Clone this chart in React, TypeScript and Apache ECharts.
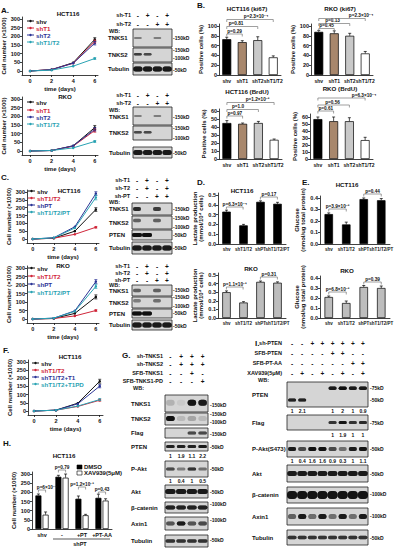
import React, { useEffect, useRef } from "react";
import * as echarts from "echarts";

const FONT = '"Liberation Sans", Arial, Helvetica, sans-serif';

// ---------------- growth curves (cell number x1000) ----------------
const days = [0, 2, 4, 6];
const cellTicks = [0, 50, 100, 150, 200, 250, 300];

const aHctShv = [0, 8, 48, 182];
const aHctShT1 = [0, 8, 45, 170];
const aHctShT2 = [0, 8, 45, 160];
const aHctShT1T2 = [0, 5, 28, 72];
const aHctErr6 = [10, 8, 10, 5];

const aRkoShv = [0, 3, 30, 135];
const aRkoShT1 = [0, 3, 28, 118];
const aRkoShT2 = [0, 3, 30, 125];
const aRkoShT1T2 = [0, 3, 18, 55];
const aRkoErr6 = [12, 10, 10, 5];

const cHctShv = [0, 5, 50, 188];
const cHctShT1T2 = [0, 5, 30, 75];
const cHctShPT = [0, 8, 78, 290];
const cHctShT1T2PT = [0, 8, 70, 265];
const cHctErr6 = [12, 5, 12, 15];

const cRkoShv = [0, 3, 33, 130];
const cRkoShT1T2 = [0, 3, 18, 50];
const cRkoShPT = [0, 5, 48, 220];
const cRkoShT1T2PT = [0, 5, 45, 192];
const cRkoErr6 = [12, 5, 12, 12];

const fHctShv = [0, 5, 48, 182];
const fHctShT1T2 = [0, 5, 28, 66];
const fHctShT1T2T1 = [0, 5, 44, 152];
const fHctShT1T2T1PD = [0, 5, 30, 70];
const fHctErr6 = [12, 6, 10, 6];

// ---------------- B: positive cells (%) ----------------
const bCats = ["shv", "shT1", "shT2", "shT1/T2"];
const bHctKi67 = [73, 67, 71, 36];
const bHctKi67Err = [4, 3, 7, 3];
const bRkoKi67 = [88, 85, 80, 44];
const bRkoKi67Err = [3, 5, 5, 4];
const bHctBrdu = [45, 44, 45, 24];
const bHctBrduErr = [3, 1, 2, 1];
const bRkoBrdu = [57, 54, 54, 27];
const bRkoBrduErr = [3, 6, 5, 4];
const kiTicks = [0, 20, 40, 60, 80, 100];
const brduTicks = [0, 10, 20, 30, 40, 50, 60];

// ---------------- D / E ----------------
const deCats = ["shv", "shT1/T2", "shPT", "shT1/T2/PT"];
const dHct = [0.33, 0.19, 0.43, 0.41];
const dHctErr = [0.015, 0.01, 0.01, 0.015];
const eHct = [0.26, 0.17, 0.39, 0.38];
const eHctErr = [0.01, 0.02, 0.01, 0.015];
const dRko = [0.3, 0.18, 0.42, 0.41];
const dRkoErr = [0.015, 0.01, 0.01, 0.01];
const eRko = [0.21, 0.15, 0.31, 0.3];
const eRkoErr = [0.01, 0.02, 0.015, 0.02];
const dTicks = [0, 0.1, 0.2, 0.3, 0.4, 0.5];
const eTicks = [0, 0.1, 0.2, 0.3, 0.4];

// ---------------- H ----------------
const hCats = ["shv", "-", "+PT", "+PT-AA"];
const hDmso = [183, 285, 165, 170];
const hDmsoErr = [8, 8, 15, 20];
const hXav = [78, 280, 75, 155];
const hXavErr = [15, 20, 5, 10];

// ---------------- blots (band intensities per lane) ----------------
const aHctTnks1 = [0.35, 0, 0.35, 0];
const aHctTnks2 = [0.65, 0.6, 0, 0];
const aHctTub = [0.85, 0.85, 0.85, 0.85];
const aRkoTnks1 = [0.35, 0, 0.35, 0];
const aRkoTnks2 = [0.6, 0.6, 0, 0];
const aRkoTub = [0.85, 0.85, 0.85, 0.85];
const cHctTnks1 = [0.75, 0, 0.65, 0];
const cHctTnks2 = [0.5, 0, 0.5, 0];
const cHctPten = [0.95, 0.95, 0, 0];
const cHctTub = [0.85, 0.85, 0.85, 0.85];
const cRkoTnks1 = [0.5, 0, 0.5, 0];
const cRkoTnks2 = [0.35, 0, 0.4, 0];
const cRkoPten = [0.95, 0.95, 0, 0];
const cRkoTub = [0.85, 0.85, 0.85, 0.85];
const gTnks1 = [0.15, 0.05, 0.9, 0.85];
const gTnks2 = [0.95, 0.12, 0.2, 0.12];
const gFlag = [0, 0, 0.6, 0.6];
const gPten = [0.8, 0.8, 0.8, 0.85];
const gPakt = [0.6, 0.35, 0.7, 0.4];
const gAkt = [0.85, 0.85, 0.85, 0.85];
const gBcat = [0.8, 0.8, 0.8, 0.8];
const gAxin = [0.55, 0.85, 0.55, 0.6];
const gTub = [0.7, 0.7, 0.7, 0.7];
const gPtenNums = ["1", "1.9", "1.1", "2.2"];
const gPaktNums = ["1", "0.4", "1", "0.5"];
const iPten50 = [0.8, 0.8, 0, 0, 0, 0, 0, 0];
const iPten75 = [0, 0, 0, 0, 0.85, 0.95, 0.85, 0.85];
const iFlag = [0, 0, 0, 0, 0.7, 0.9, 0.7, 0.75];
const iPakt = [0.85, 0.6, 0.95, 0.95, 0.6, 0.4, 0.85, 0.9];
const iAkt = [0.85, 0.85, 0.85, 0.85, 0.85, 0.85, 0.85, 0.85];
const iBcat = [0.9, 0.9, 0.9, 0.9, 0.9, 0.9, 0.9, 0.9];
const iAxin = [0.5, 0.85, 0.45, 0.85, 0.4, 0.85, 0.4, 0.85];
const iTub = [0.7, 0.7, 0.7, 0.7, 0.7, 0.7, 0.7, 0.7];
const iPtenNums = ["1", "2.1", "", "", "1", "2", "1", "0.9"];
const iFlagNums = ["", "", "", "", "1", "1.9", "1", "1"];
const iPaktNums = ["1", "0.4", "1.6", "1.6", "0.9", "0.3", "1", "1.1"];

const BLACK = "#111111";
const RED = "#d0263a";
const BLUE = "#2c3596";
const TEAL = "#2aa3b3";
const bColors = ["#000000", "#a8876c", "#c9c9c9", "#ffffff"];

function txt(x: number, y: number, text: string, o: any = {}) {
  return {
    type: "text",
    x,
    y,
    silent: true,
    z: 20,
    style: {
      text,
      fontFamily: FONT,
      fontSize: o.fs ?? 6,
      fontWeight: o.fw ?? "bold",
      fill: o.c ?? "#111",
      align: o.a ?? "left",
      verticalAlign: "middle",
    },
  };
}
function ln(x1: number, y1: number, x2: number, y2: number, c = "#111", w = 0.7) {
  return { type: "line", silent: true, z: 20, shape: { x1, y1, x2, y2 }, style: { stroke: c, lineWidth: w } };
}
function bracket(x1: number, x2: number, y: number, label: string, lx?: number) {
  const c = "#777";
  return [
    ln(x1, y, x2, y, c, 0.7),
    ln(x1, y, x1, y + 2.5, c, 0.7),
    ln(x2, y, x2, y + 2.5, c, 0.7),
    txt(lx ?? (x1 + x2) / 2, y - 2.9, label, { fs: 4.7, a: "center" }),
  ];
}
function blotBox(x: number, y: number, w: number, h: number) {
  return { type: "rect", silent: true, z: 15, shape: { x, y, width: w, height: h }, style: { fill: "#d5d5d5", stroke: "#222", lineWidth: 0.8 } };
}
function bands(x: number, y: number, w: number, h: number, intens: number[], yFrac = 0.5, bh = 3, wf = 0.8) {
  const n = intens.length;
  const lw = w / n;
  const out: any[] = [];
  intens.forEach((v, i) => {
    if (v <= 0) return;
    const bw = lw * wf;
    out.push({
      type: "rect",
      silent: true,
      z: 16,
      shape: { x: x + lw * i + (lw - bw) / 2, y: y + h * yFrac - bh / 2, width: bw, height: bh, r: bh / 2 },
      style: { fill: `rgba(15,15,15,${v})`, shadowBlur: 1.5, shadowColor: `rgba(15,15,15,${v * 0.8})` },
    });
  });
  return out;
}
function laneX(x: number, w: number, n: number, i: number) {
  return x + (w / n) * (i + 0.5);
}
function signRow(x: number, w: number, y: number, signs: string[], label: string, labelX: number) {
  const out: any[] = [txt(labelX, y, label, { a: "right", fs: 5.5 })];
  signs.forEach((s, i) => out.push(txt(laneX(x, w, signs.length, i), y, s, { a: "center", fs: 6.5 })));
  return out;
}
function numRow(x: number, w: number, y: number, nums: string[]) {
  return nums.map((s, i) => txt(laneX(x, w, nums.length, i), y, s, { a: "center", fs: 5 }));
}
function legendItem(x: number, y: number, color: string, label: string) {
  return [
    ln(x, y, x + 7, y, color, 1),
    { type: "circle", silent: true, z: 20, shape: { cx: x + 3.5, cy: y, r: 1.2 }, style: { fill: color } },
    txt(x + 9, y, label, { c: color, fs: 6.2 }),
  ];
}

const lineErr = (color: string) => (params: any, api: any) => {
  const x = api.value(0), y = api.value(1), e = api.value(2);
  const a = api.coord([x, y - e]);
  const b = api.coord([x, y + e]);
  const st = { stroke: color, lineWidth: 0.7 };
  return {
    type: "group",
    children: [
      { type: "line", shape: { x1: a[0], y1: a[1], x2: b[0], y2: b[1] }, style: st },
      { type: "line", shape: { x1: b[0] - 1.5, y1: b[1], x2: b[0] + 1.5, y2: b[1] }, style: st },
      { type: "line", shape: { x1: a[0] - 1.5, y1: a[1], x2: a[0] + 1.5, y2: a[1] }, style: st },
    ],
  };
};
const barErr = (offset: number) => (params: any, api: any) => {
  const x = api.value(0), y = api.value(1), e = api.value(2);
  const p0 = api.coord([x, y]);
  const p1 = api.coord([x, y + e]);
  const cx = p0[0] + offset;
  const st = { stroke: "#000", lineWidth: 0.7 };
  return {
    type: "group",
    children: [
      { type: "line", shape: { x1: cx, y1: p0[1], x2: cx, y2: p1[1] }, style: st },
      { type: "line", shape: { x1: cx - 1.5, y1: p1[1], x2: cx + 1.5, y2: p1[1] }, style: st },
    ],
  };
};

function buildOption() {
  const grid: any[] = [];
  const xAxis: any[] = [];
  const yAxis: any[] = [];
  const series: any[] = [];
  const g: any[] = [];
  const nameStyle = { fontSize: 6, fontWeight: "bold", fontFamily: FONT, color: "#111", lineHeight: 6.5 };
  const lab = (extra: any = {}) => ({ fontSize: 5.5, fontWeight: "bold", fontFamily: FONT, color: "#111", margin: 2, ...extra });
  const aline = { show: true, onZero: false, lineStyle: { color: "#111", width: 0.8 } };
  const tick = (vals?: number[]) => ({ show: true, length: 2, lineStyle: { color: "#111", width: 0.8 }, ...(vals ? { customValues: vals } : {}) });

  function addLine(box: number[], xr: number[], yr: number[], defs: any[], err6: number[]) {
    const i = grid.length;
    grid.push({ left: box[0], top: box[1], width: box[2], height: box[3], containLabel: false, outerBoundsMode: "none" });
    xAxis.push({
      type: "value", gridIndex: i, min: xr[0], max: xr[1], axisLine: aline, axisTick: tick(days),
      axisLabel: lab({ customValues: days, margin: 3 }), splitLine: { show: false },
      name: "time (days)", nameLocation: "middle", nameGap: 11, nameTextStyle: nameStyle,
    });
    yAxis.push({
      type: "value", gridIndex: i, min: yr[0], max: yr[1], axisLine: aline, axisTick: tick(cellTicks),
      axisLabel: lab({ customValues: cellTicks }), splitLine: { show: false },
      name: "Cell number (×1000)", nameLocation: "middle", nameGap: 14, nameRotate: 90, nameTextStyle: nameStyle,
    });
    defs.forEach((d: any, k: number) => {
      series.push({
        type: "line", name: d.name, xAxisIndex: i, yAxisIndex: i,
        data: days.map((x, j) => [x, d.data[j]]), symbol: "circle", symbolSize: 2.5,
        lineStyle: { width: 1, color: d.color }, itemStyle: { color: d.color }, z: 3,
      });
      series.push({
        type: "custom", xAxisIndex: i, yAxisIndex: i, data: [[6, d.data[3], err6[k]]],
        renderItem: lineErr(d.color), z: 4,
      });
    });
  }

  function addBar(box: number[], cats: string[], ymax: number, ticks: number[], fmt: (v: number) => string,
    yName: string, nameGap: number, sets: any[], barWidth: number, catFs = 5.2) {
    const i = grid.length;
    grid.push({ left: box[0], top: box[1], width: box[2], height: box[3], containLabel: false, outerBoundsMode: "none" });
    xAxis.push({
      type: "category", gridIndex: i, data: cats, axisLine: aline, axisTick: { show: false },
      axisLabel: lab({ interval: 0, fontSize: catFs, margin: 3 }),
    });
    yAxis.push({
      type: "value", gridIndex: i, min: 0, max: ymax, axisLine: aline, axisTick: tick(ticks),
      axisLabel: lab({ customValues: ticks, formatter: fmt }), splitLine: { show: false },
      name: yName, nameLocation: "middle", nameGap, nameRotate: 90, nameTextStyle: nameStyle,
    });
    sets.forEach((s: any) => {
      series.push({
        type: "bar", xAxisIndex: i, yAxisIndex: i, barWidth, barGap: "20%",
        data: s.data.map((v: number, k: number) => ({ value: v, itemStyle: { color: s.colors ? s.colors[k] : s.color } })),
        itemStyle: { borderColor: "#000", borderWidth: 0.7 }, z: 2,
      });
    });
    sets.forEach((s: any) => {
      series.push({
        type: "custom", xAxisIndex: i, yAxisIndex: i,
        data: s.data.map((v: number, k: number) => [k, v, s.err[k]]),
        renderItem: barErr(s.offset ?? 0), z: 5,
      });
    });
  }

  // ---------- line charts ----------
  addLine([22, 17, 76, 58], [-0.75, 6.3], [-23, 311], [
    { name: "shv", data: aHctShv, color: BLACK },
    { name: "shT1", data: aHctShT1, color: RED },
    { name: "shT2", data: aHctShT2, color: BLUE },
    { name: "shT1/T2", data: aHctShT1T2, color: TEAL },
  ], aHctErr6);
  addLine([22, 97, 76, 58], [-0.75, 6.3], [-23, 311], [
    { name: "shv", data: aRkoShv, color: BLACK },
    { name: "shT1", data: aRkoShT1, color: RED },
    { name: "shT2", data: aRkoShT2, color: BLUE },
    { name: "shT1/T2", data: aRkoShT1T2, color: TEAL },
  ], aRkoErr6);
  addLine([27, 190, 72, 53], [-0.55, 6.3], [-25.5, 312.8], [
    { name: "shv", data: cHctShv, color: BLACK },
    { name: "shT1/T2", data: cHctShT1T2, color: RED },
    { name: "shPT", data: cHctShPT, color: BLUE },
    { name: "shT1/T2/PT", data: cHctShT1T2PT, color: TEAL },
  ], cHctErr6);
  addLine([27, 266, 72, 57], [-0.55, 6.3], [-23.5, 311.8], [
    { name: "shv", data: cRkoShv, color: BLACK },
    { name: "shT1/T2", data: cRkoShT1T2, color: RED },
    { name: "shPT", data: cRkoShPT, color: BLUE },
    { name: "shT1/T2/PT", data: cRkoShT1T2PT, color: TEAL },
  ], cRkoErr6);
  addLine([28, 360, 75, 55], [-0.55, 6.3], [-24.5, 312], [
    { name: "shv", data: fHctShv, color: BLACK },
    { name: "shT1/T2", data: fHctShT1T2, color: RED },
    { name: "shT1/T2+T1", data: fHctShT1T2T1, color: BLUE },
    { name: "shT1/T2+T1PD", data: fHctShT1T2T1PD, color: TEAL },
  ], fHctErr6);

  // ---------- bar charts ----------
  const f0 = (v: number) => String(v);
  const f1 = (v: number) => v.toFixed(1);
  addBar([219, 24, 62, 51], bCats, 104, kiTicks, f0, "Positive cells (%)", 12, [{ data: bHctKi67, err: bHctKi67Err, colors: bColors }], 9, 5);
  addBar([311, 24, 62, 51], bCats, 104, kiTicks, f0, "Positive cells (%)", 12, [{ data: bRkoKi67, err: bRkoKi67Err, colors: bColors }], 9, 5);
  addBar([219, 109, 63, 50], bCats, 62.5, brduTicks, f0, "Positive cells (%)", 12, [{ data: bHctBrdu, err: bHctBrduErr, colors: bColors }], 9, 5);
  addBar([310, 114, 63, 45], bCats, 64.3, brduTicks, f0, "Positive cells (%)", 12, [{ data: bRkoBrdu, err: bRkoBrduErr, colors: bColors }], 9, 5);
  addBar([218, 193, 68, 51], deCats, 0.52, dTicks, f1, "Lactate production\n(mmol/10⁴ cells)", 11, [{ data: dHct, err: dHctErr, color: "#000" }], 8.5, 4.5);
  addBar([320, 196, 70, 48], deCats, 0.417, eTicks, f1, "Glucose\n(nmol/ug total protein)", 11, [{ data: eHct, err: eHctErr, color: "#000" }], 8.5, 4.5);
  addBar([218, 273, 68, 45], deCats, 0.523, dTicks, f1, "Lactate production\n(mmol/10⁴ cells)", 11, [{ data: dRko, err: dRkoErr, color: "#bdbdbd" }], 8.5, 4.5);
  addBar([320, 276, 70, 42], deCats, 0.42, eTicks, f1, "Glucose\n(nmol/ug total protein)", 11, [{ data: eRko, err: eRkoErr, color: "#bdbdbd" }], 8.5, 4.5);
  addBar([32, 472, 80, 57], hCats, 311, cellTicks, f0, "Cell number (×1000)", 14, [
    { data: hDmso, err: hDmsoErr, color: "#000", offset: -3.6 },
    { data: hXav, err: hXavErr, color: "#fff", offset: 3.6 },
  ], 6, 5.5);

  // ---------- panel letters ----------
  g.push(txt(1, 10, "A.", { fs: 8 }), txt(197, 5, "B.", { fs: 8 }), txt(1, 177, "C.", { fs: 8 }),
    txt(197, 182, "D.", { fs: 8 }), txt(302, 182, "E.", { fs: 8 }), txt(3, 350, "F.", { fs: 8 }),
    txt(122, 355, "G.", { fs: 8 }), txt(3, 443, "H.", { fs: 8 }), txt(255, 343, "I.", { fs: 8 }));

  // ---------- titles ----------
  const tt = (x: number, y: number, s: string) => txt(x, y, s, { a: "center", fs: 6.2 });
  g.push(tt(68, 13, "HCT116"), tt(65, 96, "RKO"), tt(69, 190, "HCT116"), tt(63, 265, "RKO"), tt(70, 356, "HCT116"),
    tt(247, 8.5, "HCT116 (ki67)"), tt(340, 8.5, "RKO (ki67)"), tt(247, 91, "HCT116 (BrdU)"), tt(340, 88, "RKO (BrdU)"),
    tt(242, 190, "HCT116"), tt(347, 184, "HCT116"), tt(251, 268, "RKO"), tt(347, 270, "RKO"), tt(64, 455, "HCT116"));

  // ---------- line legends ----------
  const leg = (x: number, ys: number[], names: string[], cols: string[]) =>
    ys.forEach((y, k) => g.push(...legendItem(x, y, cols[k], names[k])));
  const c4 = [BLACK, RED, BLUE, TEAL];
  leg(27, [21, 28, 35, 42], ["shv", "shT1", "shT2", "shT1/T2"], c4);
  leg(27, [102, 110, 117, 124], ["shv", "shT1", "shT2", "shT1/T2"], c4);
  leg(28, [191, 198, 205, 212], ["shv", "shT1/T2", "shPT", "shT1/T2/PT"], c4);
  leg(28, [268, 276, 284, 292], ["shv", "shT1/T2", "shPT", "shT1/T2/PT"], c4);
  leg(32, [363, 370, 377, 384], ["shv", "shT1/T2", "shT1/T2+T1", "shT1/T2+T1PD"], c4);

  // ---------- p-value brackets ----------
  g.push(...bracket(226.75, 242.25, 34, "p=0.29"), ...bracket(226.75, 257.75, 26.5, "p=0.81", 236),
    ...bracket(226.75, 273.25, 19.5, "p=2.3×10⁻⁴", 256));
  g.push(...bracket(318.75, 334.25, 28.5, "p=0.45"), ...bracket(318.75, 349.75, 23.5, "p=0.13", 332.5),
    ...bracket(318.75, 365.25, 18.5, "p=2.3×10⁻⁴", 361));
  g.push(...bracket(226.9, 242.6, 116, "p=0.97"), ...bracket(226.9, 258.4, 109.5, "p=1.0", 238),
    ...bracket(226.9, 274.1, 102.5, "p=1.2×10⁻³", 257.5));
  g.push(...bracket(317.9, 333.6, 111, "p=0.61"), ...bracket(317.9, 349.4, 105, "p=0.56", 332.5),
    ...bracket(317.9, 365.1, 98, "p=6.3×10⁻⁴", 364));
  g.push(...bracket(226.4, 243.1, 207, "p=6.3×10⁻⁴"), ...bracket(260.4, 277.4, 197, "p=0.17"));
  g.push(...bracket(328.75, 346.25, 209, "p=3.9×10⁻³"), ...bracket(363.75, 381.25, 194, "p=0.44"));
  g.push(...bracket(226.4, 243.1, 287, "p=1.1×10⁻³"), ...bracket(260.4, 277.4, 277, "p=0.31"));
  g.push(...bracket(328.75, 346.25, 292, "p=6.8×10⁻³"), ...bracket(363.75, 381.25, 282, "p=0.39"));
  g.push(...bracket(38.4, 45.6, 490, "p=6×10⁻⁴", 47), ...bracket(58.4, 65.6, 470, "p=0.79"),
    ...bracket(78.4, 85.6, 487, "p=1.2×10⁻³"), ...bracket(98.4, 105.6, 492, "p=0.43"));

  // ---------- H legend and sub-axis ----------
  g.push({ type: "rect", silent: true, z: 20, shape: { x: 77, y: 465, width: 5, height: 4 }, style: { fill: "#000", stroke: "#000", lineWidth: 0.6 } },
    txt(84, 467, "DMSO", { fs: 6 }),
    { type: "rect", silent: true, z: 20, shape: { x: 77, y: 471, width: 5, height: 4 }, style: { fill: "#fff", stroke: "#000", lineWidth: 0.6 } },
    txt(84, 473, "XAV939(5μM)", { fs: 6 }),
    ln(53, 539, 110, 539, "#111", 0.7), txt(80, 543.5, "shPT", { a: "center", fs: 5.5 }));

  // ---------- blots ----------
  const blotSet = (x: number, w: number, labelX: number, kdX: number, rows: any[]) => {
    rows.forEach((r: any) => {
      g.push(txt(labelX, r.ly ?? r.y + r.h / 2, r.label, { fs: r.fs ?? 6 }));
      g.push(blotBox(x, r.y, w, r.h));
      (r.bands || []).forEach((b: any) => g.push(...bands(x, r.y, w, r.h, b.v, b.yf ?? 0.5, b.bh ?? 3, b.wf ?? 0.8)));
      (r.kd || []).forEach((k: any) => g.push(txt(kdX, k[1], k[0], { fs: 5 })));
    });
  };
  // A HCT116
  g.push(...signRow(133, 39, 15, ["-", "+", "-", "+"], "sh-T1", 131), ...signRow(133, 39, 24, ["-", "-", "+", "+"], "sh-T2", 131));
  g.push(txt(109, 31, "WB:", { fs: 5.5 }));
  blotSet(133, 39, 108, 173, [
    { label: "TNKS1", y: 29, h: 18, ly: 38, bands: [{ v: aHctTnks1, bh: 2 }], kd: [["-150kD", 38]] },
    { label: "TNKS2", y: 48, h: 14, ly: 55, bands: [{ v: aHctTnks2, bh: 2.5, yf: 0.45 }], kd: [["-150kD", 50], ["-100kD", 58]] },
    { label: "Tubulin", y: 63, h: 12, ly: 69, bands: [{ v: aHctTub, bh: 5, wf: 0.95 }], kd: [["-50kD", 70]] },
  ]);
  // A RKO
  g.push(...signRow(133, 39, 95, ["-", "+", "-", "+"], "sh-T1", 131), ...signRow(133, 39, 103, ["-", "-", "+", "+"], "sh-T2", 131));
  g.push(txt(109, 110, "WB:", { fs: 5.5 }));
  blotSet(133, 39, 109, 173, [
    { label: "TNKS1", y: 107, h: 18, ly: 117, bands: [{ v: aRkoTnks1, bh: 2 }], kd: [["-150kD", 117]] },
    { label: "TNKS2", y: 126, h: 14, ly: 133, bands: [{ v: aRkoTnks2, bh: 2.5, yf: 0.45 }], kd: [["-150kD", 128], ["-100kD", 138]] },
    { label: "Tubulin", y: 147, h: 11, ly: 153, bands: [{ v: aRkoTub, bh: 5, wf: 0.95 }], kd: [["-50kD", 153]] },
  ]);
  // C HCT116
  g.push(...signRow(132, 40, 180, ["-", "+", "-", "+"], "sh-T1", 130), ...signRow(132, 40, 188, ["-", "+", "-", "+"], "sh-T2", 130),
    ...signRow(132, 40, 196, ["-", "-", "+", "+"], "sh-PT", 130));
  g.push(txt(109, 202, "WB:", { fs: 5.5 }));
  blotSet(132, 40, 109, 173, [
    { label: "TNKS1", y: 203, h: 12, bands: [{ v: cHctTnks1, bh: 4 }], kd: [["-150kD", 209]] },
    { label: "TNKS2", y: 216, h: 13, bands: [{ v: cHctTnks2, bh: 3.5, yf: 0.35 }], kd: [["-150kD", 218], ["-100kD", 227]] },
    { label: "PTEN", y: 230, h: 10, bands: [{ v: cHctPten, bh: 4, wf: 1 }], kd: [["-50kD", 235]] },
    { label: "Tubulin", y: 242, h: 12, bands: [{ v: cHctTub, bh: 5, wf: 0.95 }], kd: [["-50kD", 248]] },
  ]);
  // C RKO
  g.push(...signRow(132, 40, 266, ["-", "+", "-", "+"], "sh-T1", 130), ...signRow(132, 40, 273, ["-", "+", "-", "+"], "sh-T2", 130),
    ...signRow(132, 40, 280, ["-", "-", "+", "+"], "sh-PT", 130));
  g.push(txt(109, 285, "WB:", { fs: 5.5 }));
  blotSet(132, 40, 109, 173, [
    { label: "TNKS1", y: 285, h: 11, bands: [{ v: cRkoTnks1, bh: 3.5 }], kd: [["-150kD", 290]] },
    { label: "TNKS2", y: 297, h: 11, bands: [{ v: cRkoTnks2, bh: 3.5, yf: 0.35 }], kd: [["-150kD", 297], ["-100kD", 306]] },
    { label: "PTEN", y: 309, h: 9, bands: [{ v: cRkoPten, bh: 4, wf: 1 }], kd: [["-50kD", 313]] },
    { label: "Tubulin", y: 320, h: 10, bands: [{ v: cRkoTub, bh: 5, wf: 0.95 }], kd: [["-50kD", 326]] },
  ]);

  // ---------- G ----------
  const gx = 165, gw = 43;
  g.push(...signRow(gx, gw, 356, ["-", "+", "+", "+"], "sh-TNKS1", 163),
    ...signRow(gx, gw, 364, ["-", "+", "+", "+"], "sh-TNKS2", 163),
    ...signRow(gx, gw, 373, ["-", "-", "+", "-"], "SFB-TNKS1", 163),
    ...signRow(gx, gw, 381, ["-", "-", "-", "+"], "SFB-TNKS1-PD", 163));
  g.push(txt(133, 388, "WB:", { fs: 5.5 }));
  blotSet(gx, gw, 131, 210, [
    { label: "TNKS1", y: 395, h: 17, bands: [{ v: gTnks1, bh: 6, yf: 0.45 }], kd: [["-150kD", 405]] },
    { label: "TNKS2", y: 413, h: 12, bands: [{ v: gTnks2, bh: 5, yf: 0.45 }], kd: [["-150kD", 414], ["-100kD", 422]] },
    { label: "Flag", y: 428, h: 10, bands: [{ v: gFlag, bh: 3 }], kd: [["-150kD", 434]] },
    { label: "PTEN", y: 442, h: 9, bands: [{ v: gPten, bh: 3 }], kd: [["-50kD", 447]] },
    { label: "P-Akt", y: 461, h: 16, bands: [{ v: gPakt, bh: 3 }], kd: [["-50kD", 469]] },
    { label: "Akt", y: 485, h: 13, bands: [{ v: gAkt, bh: 5, wf: 0.95 }], kd: [["-50kD", 492]] },
    { label: "β-catenin", y: 502, h: 11, bands: [{ v: gBcat, bh: 4, wf: 0.9 }], kd: [["-100kD", 504]] },
    { label: "Axin1", y: 517, h: 13, bands: [{ v: gAxin, bh: 4 }], kd: [["-100kD", 520]] },
    { label: "Tubulin", y: 535, h: 12, bands: [{ v: gTub, bh: 3.5, wf: 0.9 }], kd: [["-50kD", 540]] },
  ]);
  g.push(...numRow(gx, gw, 456, gPtenNums), ...numRow(gx, gw, 480.5, gPaktNums));

  // ---------- I ----------
  const ix = 287, iw = 81;
  g.push(...signRow(ix, iw, 343, ["-", "-", "+", "+", "+", "+", "+", "+"], "sh-PTEN", 282),
    ...signRow(ix, iw, 353, ["-", "-", "-", "-", "+", "+", "-", "-"], "SFB-PTEN", 282),
    ...signRow(ix, iw, 363, ["-", "-", "-", "-", "-", "-", "+", "+"], "SFB-PT-AA", 282),
    ...signRow(ix, iw, 373, ["-", "+", "-", "+", "-", "+", "-", "+"], "XAV939(5μM)", 282));
  g.push(txt(258, 380, "WB:", { fs: 5.5 }));
  blotSet(ix, iw, 252, 370, [
    { label: "PTEN", y: 382, h: 25, bands: [{ v: iPten75, bh: 3.5, yf: 0.25 }, { v: iPten50, bh: 3, yf: 0.72 }], kd: [["-75kD", 388], ["-50kD", 400]] },
    { label: "Flag", y: 415, h: 15, bands: [{ v: iFlag, bh: 3 }], kd: [["-75kD", 423]] },
    { label: "P-Akt(S473)", y: 441, h: 16, bands: [{ v: iPakt, bh: 4 }], kd: [["-50kD", 449]] },
    { label: "Akt", y: 465, h: 17, bands: [{ v: iAkt, bh: 5, wf: 0.95 }], kd: [["-50kD", 474]] },
    { label: "β-catenin", y: 487, h: 16, bands: [{ v: iBcat, bh: 8, wf: 1 }], kd: [["-100kD", 494]] },
    { label: "Axin1", y: 508, h: 17, bands: [{ v: iAxin, bh: 5 }], kd: [["-100kD", 516]] },
    { label: "Tubulin", y: 530, h: 15, bands: [{ v: iTub, bh: 3.5, wf: 0.9 }], kd: [["-50kD", 538]] },
  ]);
  g.push(...numRow(ix, iw, 411, iPtenNums), ...numRow(ix, iw, 435, iFlagNums), ...numRow(ix, iw, 461, iPaktNums));

  return {
    animation: false,
    backgroundColor: "#ffffff",
    textStyle: { fontFamily: FONT },
    grid,
    xAxis,
    yAxis,
    series,
    graphic: { elements: g },
  };
}

export default function App() {
  const ref = useRef<HTMLDivElement>(null);
  useEffect(() => {
    document.body.style.margin = "0";
    const chart = echarts.init(ref.current as HTMLDivElement, undefined, { renderer: "svg" });
    chart.setOption(buildOption() as any);
    return () => chart.dispose();
  }, []);
  return (
    <div
      ref={ref}
      style={{ width: 404, height: 548, position: "absolute", left: 0, top: 0, background: "#fff" }}
    />
  );
}
